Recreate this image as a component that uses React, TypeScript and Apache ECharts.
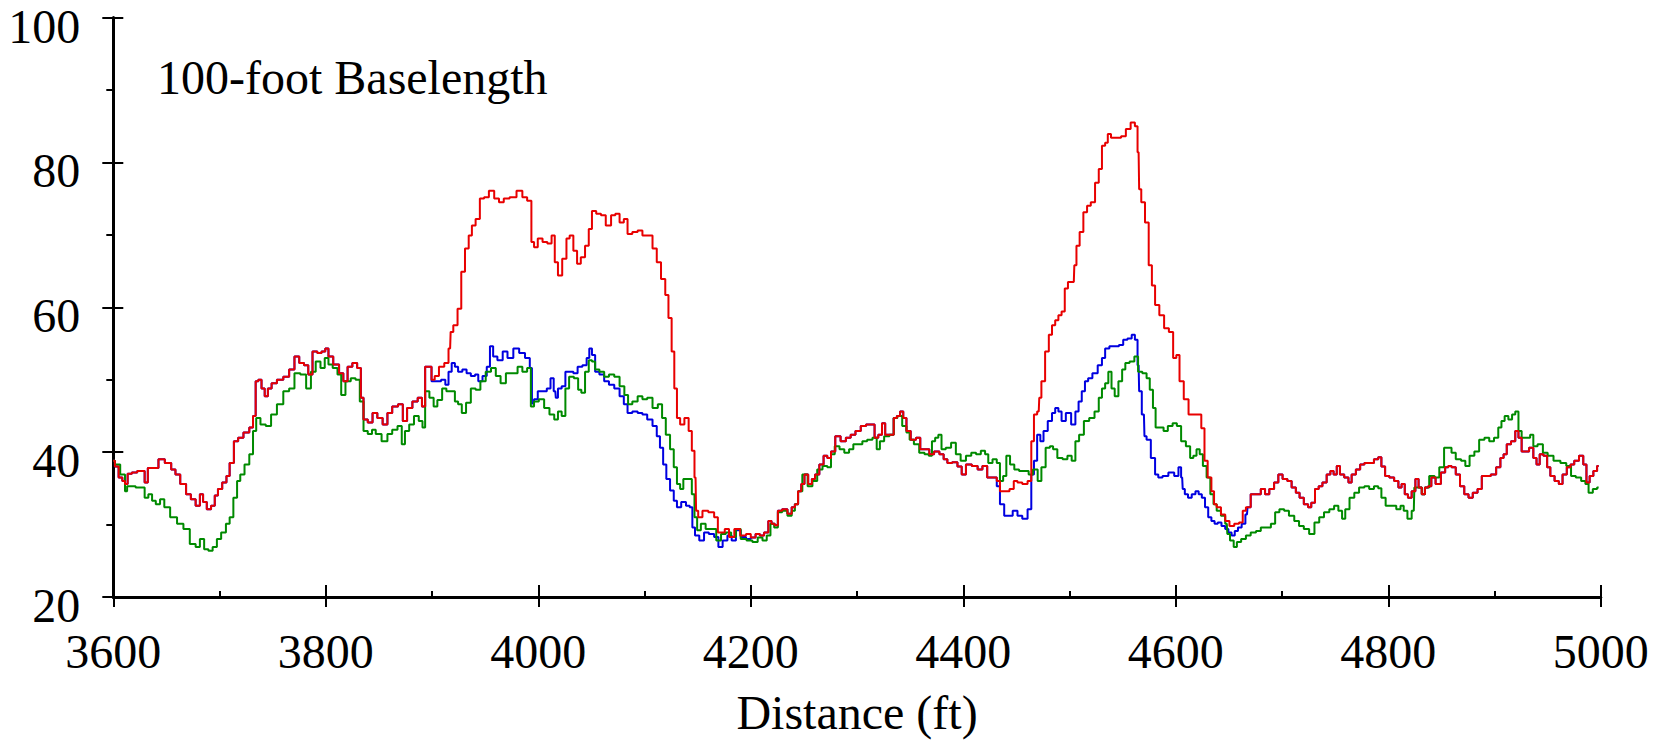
import React, { useEffect, useRef } from "react";
import * as echarts from "echarts";

const xTicks = [3600, 3800, 4000, 4200, 4400, 4600, 4800, 5000];
const yTicks = [20, 40, 60, 80, 100];
const chartTitle = "100-foot Baselength";
const xName = "Distance (ft)";

// red series [distance, value]
const red: [number, number][] = [
  [3600, 38.8], [3603, 38.0], [3607, 36.5], [3610, 36.0], [3612, 35.6], [3615, 37.0], [3620, 37.2], [3625, 37.4], [3628, 37.4], [3631, 35.8],
  [3634, 37.8], [3640, 37.8], [3645, 39.0], [3652, 38.5], [3657, 37.6], [3660, 36.9], [3666, 35.6], [3671, 34.2], [3675, 33.5], [3680, 32.6],
  [3683, 34.2], [3686, 33.1], [3690, 32.1], [3694, 32.6], [3697, 34.0], [3700, 34.9], [3705, 35.8], [3708, 36.7], [3711, 38.5], [3716, 41.5],
  [3719, 42.0], [3726, 42.7], [3730, 43.4], [3733, 45.0], [3735, 49.8], [3738, 50.0], [3741, 48.8], [3744, 47.7], [3747, 48.8], [3751, 49.5],
  [3757, 50.0], [3763, 50.4], [3768, 51.4], [3773, 53.2], [3777, 52.3], [3782, 52.0], [3785, 50.7], [3790, 53.9], [3794, 53.7], [3798, 53.9],
  [3801, 54.3], [3804, 53.2], [3810, 52.1], [3815, 50.9], [3818, 49.8], [3823, 51.8], [3827, 52.3], [3832, 51.6], [3834, 47.5], [3837, 44.5],
  [3842, 44.1], [3846, 45.4], [3851, 44.7], [3856, 43.8], [3860, 45.4], [3865, 46.3], [3871, 46.6], [3874, 44.3], [3879, 46.1], [3884, 47.0],
  [3889, 47.5], [3892, 46.3], [3895, 51.8], [3898, 51.8], [3901, 50.0], [3904, 50.5], [3909, 51.8], [3914, 52.3], [3917, 54.3], [3918, 56.6],
  [3922, 57.5], [3926, 59.8], [3929, 64.9], [3933, 68.1], [3936, 69.9], [3939, 71.3], [3943, 72.2], [3947, 75.0], [3951, 75.2], [3956, 76.1],
  [3961, 75.0], [3965, 74.5], [3970, 75.0], [3976, 75.2], [3983, 76.1], [3987, 75.2], [3992, 74.7], [3995, 69.0], [3997, 68.3], [4002, 69.5],
  [4006, 69.0], [4011, 68.8], [4014, 69.9], [4017, 66.2], [4020, 64.4], [4025, 66.7], [4028, 69.5], [4031, 69.9], [4035, 67.8], [4038, 66.0],
  [4042, 66.9], [4046, 68.5], [4049, 70.8], [4052, 73.3], [4057, 72.9], [4061, 72.7], [4066, 71.3], [4071, 72.7], [4074, 72.9], [4079, 71.7],
  [4082, 72.2], [4086, 70.1], [4091, 70.4], [4096, 70.6], [4100, 69.9], [4105, 69.9], [4110, 68.1], [4113, 66.2], [4118, 63.9], [4121, 61.7],
  [4124, 58.5], [4127, 53.9], [4129, 48.8], [4132, 44.7], [4135, 43.8], [4140, 44.7], [4143, 42.9], [4146, 40.2], [4148, 36.5], [4149, 31.9],
  [4152, 31.0], [4157, 31.9], [4163, 31.7], [4168, 31.0], [4170, 28.9], [4174, 28.9], [4177, 29.4], [4182, 28.3], [4187, 29.4], [4193, 28.5],
  [4198, 28.7], [4202, 28.2], [4207, 28.7], [4210, 28.5], [4215, 28.9], [4218, 30.5], [4221, 30.1], [4224, 29.9], [4227, 31.9], [4232, 32.1],
  [4237, 31.5], [4240, 32.4], [4243, 32.8], [4246, 34.6], [4249, 35.6], [4252, 36.9], [4256, 35.6], [4259, 36.3], [4262, 36.9], [4267, 38.3],
  [4270, 39.5], [4274, 39.2], [4277, 40.1], [4282, 42.2], [4287, 41.5], [4292, 42.0], [4296, 42.4], [4301, 42.9], [4306, 43.6], [4311, 43.8],
  [4315, 43.8], [4318, 42.0], [4322, 42.4], [4325, 44.0], [4328, 42.4], [4333, 42.4], [4336, 44.7], [4339, 45.0], [4342, 45.6], [4345, 44.7],
  [4348, 42.9], [4353, 41.7], [4358, 42.0], [4361, 40.4], [4366, 40.4], [4370, 39.7], [4375, 40.1], [4380, 39.7], [4383, 39.0], [4387, 38.5],
  [4392, 38.6], [4397, 38.0], [4400, 36.9], [4405, 38.3], [4411, 38.1], [4416, 37.6], [4420, 38.1], [4425, 36.5], [4430, 36.5], [4433, 36.0],
  [4436, 34.6], [4441, 34.6], [4446, 34.9], [4449, 36.0], [4453, 35.8], [4458, 35.6], [4463, 36.0], [4465, 41.5], [4468, 45.2], [4471, 45.6],
  [4472, 47.5], [4475, 49.8], [4479, 53.9], [4482, 56.2], [4485, 57.5], [4488, 58.2], [4491, 58.9], [4494, 59.4], [4497, 62.6], [4500, 63.5],
  [4504, 63.5], [4505, 65.8], [4508, 68.5], [4511, 70.4], [4515, 73.1], [4518, 74.0], [4522, 74.5], [4526, 77.2], [4529, 79.1], [4532, 82.3],
  [4535, 82.7], [4537, 83.9], [4541, 83.4], [4546, 83.4], [4551, 83.6], [4555, 84.6], [4560, 85.5], [4563, 85.0], [4565, 81.4], [4566, 76.3],
  [4569, 74.5], [4573, 71.7], [4576, 65.8], [4579, 63.0], [4582, 60.3], [4587, 58.9], [4591, 57.1], [4596, 56.6], [4599, 53.0], [4602, 53.4],
  [4605, 49.8], [4610, 47.3], [4614, 45.2], [4622, 45.2], [4626, 43.3], [4628, 38.8], [4632, 36.5], [4635, 34.6], [4637, 32.8], [4640, 32.4],
  [4645, 31.4], [4648, 30.5], [4653, 29.8], [4657, 30.1], [4662, 30.3], [4664, 31.9], [4668, 32.4], [4673, 34.2], [4678, 34.2], [4682, 34.9],
  [4686, 34.2], [4690, 34.9], [4695, 35.8], [4698, 36.9], [4703, 36.3], [4707, 36.0], [4711, 35.1], [4715, 34.4], [4718, 33.7], [4723, 32.8],
  [4726, 32.4], [4729, 33.0], [4733, 34.9], [4736, 35.3], [4740, 35.8], [4744, 36.9], [4747, 37.4], [4750, 36.9], [4753, 38.1], [4756, 36.9],
  [4761, 36.5], [4764, 35.8], [4767, 36.9], [4772, 37.6], [4775, 38.3], [4780, 38.5], [4784, 38.5], [4789, 39.0], [4792, 39.3], [4795, 38.0],
  [4799, 36.7], [4803, 36.5], [4808, 36.0], [4811, 35.1], [4814, 35.6], [4817, 34.2], [4820, 33.7], [4824, 34.6], [4827, 36.3], [4830, 35.1],
  [4833, 34.2], [4836, 35.1], [4839, 35.3], [4842, 36.5], [4847, 35.6], [4852, 37.2], [4855, 37.9], [4858, 38.1], [4861, 37.9], [4866, 36.9],
  [4869, 35.3], [4874, 34.2], [4877, 33.7], [4882, 34.4], [4886, 34.9], [4890, 36.7], [4894, 36.7], [4899, 36.9], [4904, 37.9], [4907, 39.2],
  [4910, 39.7], [4913, 41.1], [4918, 41.5], [4921, 42.9], [4924, 42.0], [4927, 40.1], [4930, 40.1], [4935, 40.6], [4938, 39.2], [4941, 38.3],
  [4944, 39.7], [4948, 39.5], [4951, 37.9], [4954, 36.7], [4959, 36.0], [4962, 35.6], [4966, 36.9], [4970, 37.9], [4973, 38.3], [4977, 38.8],
  [4982, 39.5], [4985, 38.3], [4988, 35.8], [4991, 36.7], [4995, 37.4], [4998, 38.1],
];

// green series [distance, value]
const green: [number, number][] = [
  [3600, 38.8], [3603, 38.3], [3610, 36.9], [3612, 34.6], [3614, 35.3], [3628, 35.1], [3631, 33.7], [3635, 34.2], [3638, 33.3], [3642, 32.8],
  [3646, 33.5], [3650, 32.4], [3657, 31.0], [3663, 30.1], [3669, 29.4], [3675, 27.3], [3680, 26.9], [3683, 28.0], [3688, 26.6], [3691, 26.4],
  [3696, 26.9], [3699, 28.0], [3704, 28.9], [3708, 30.1], [3711, 31.0], [3715, 33.7], [3718, 36.0], [3721, 36.9], [3726, 38.3], [3730, 39.7],
  [3733, 42.9], [3736, 44.7], [3741, 43.8], [3746, 43.6], [3751, 45.2], [3757, 46.6], [3763, 48.4], [3768, 48.8], [3773, 50.9], [3779, 50.7],
  [3784, 48.8], [3788, 51.1], [3793, 52.5], [3797, 51.6], [3801, 53.0], [3804, 52.1], [3809, 51.6], [3813, 50.7], [3816, 47.9], [3821, 49.8],
  [3826, 50.2], [3830, 50.0], [3834, 47.0], [3837, 42.9], [3842, 42.5], [3845, 43.1], [3849, 42.5], [3856, 41.5], [3860, 42.5], [3865, 43.1],
  [3870, 43.6], [3873, 41.1], [3876, 42.9], [3881, 43.8], [3885, 45.0], [3890, 44.3], [3892, 43.4], [3895, 48.4], [3900, 47.5], [3903, 46.3],
  [3907, 47.2], [3912, 48.8], [3915, 48.4], [3920, 48.4], [3923, 47.0], [3926, 46.6], [3930, 45.4], [3934, 46.8], [3939, 48.8], [3943, 48.6],
  [3948, 49.8], [3953, 51.1], [3958, 51.6], [3962, 50.5], [3967, 49.5], [3972, 50.9], [3978, 50.9], [3983, 51.8], [3987, 51.1], [3992, 51.6],
  [3994, 46.3], [3998, 47.0], [4003, 47.3], [4008, 46.1], [4013, 45.2], [4017, 44.5], [4020, 45.6], [4024, 45.0], [4027, 48.8], [4031, 50.4],
  [4036, 50.2], [4039, 48.6], [4042, 48.2], [4046, 51.1], [4049, 52.7], [4052, 52.5], [4055, 51.4], [4060, 51.1], [4064, 50.4], [4069, 50.7],
  [4074, 50.4], [4079, 49.1], [4083, 47.9], [4086, 46.6], [4091, 47.0], [4096, 47.7], [4100, 47.3], [4105, 47.5], [4110, 46.1], [4115, 46.6],
  [4118, 44.7], [4122, 42.4], [4126, 40.4], [4129, 37.9], [4132, 35.6], [4135, 34.9], [4138, 36.3], [4143, 36.3], [4146, 34.2], [4148, 31.0],
  [4151, 29.2], [4155, 30.1], [4160, 29.4], [4165, 29.4], [4170, 27.8], [4174, 28.7], [4179, 28.9], [4184, 28.3], [4188, 29.4], [4193, 28.0],
  [4199, 27.8], [4204, 27.6], [4209, 28.2], [4213, 27.8], [4217, 28.5], [4220, 30.1], [4224, 29.6], [4227, 31.7], [4232, 31.9], [4237, 31.2],
  [4240, 31.9], [4243, 32.8], [4246, 34.6], [4251, 36.9], [4256, 35.3], [4260, 36.0], [4265, 37.6], [4270, 38.1], [4274, 37.9], [4277, 39.7],
  [4281, 40.8], [4286, 40.4], [4290, 39.9], [4295, 40.4], [4298, 41.1], [4303, 41.1], [4307, 41.5], [4312, 41.7], [4317, 42.0], [4320, 40.4],
  [4323, 41.5], [4328, 42.2], [4333, 42.4], [4336, 44.7], [4340, 45.0], [4345, 43.6], [4348, 42.7], [4351, 41.7], [4356, 41.1], [4361, 39.9],
  [4366, 39.7], [4369, 39.5], [4372, 41.5], [4375, 42.0], [4378, 42.4], [4381, 40.4], [4386, 40.6], [4391, 41.3], [4395, 39.7], [4400, 38.8],
  [4405, 39.5], [4410, 39.9], [4414, 39.7], [4419, 40.2], [4422, 39.7], [4425, 38.5], [4430, 39.0], [4433, 38.5], [4436, 36.0], [4439, 36.7],
  [4442, 39.5], [4446, 38.3], [4450, 37.6], [4455, 37.4], [4460, 37.4], [4463, 36.9], [4468, 37.6], [4472, 36.0], [4475, 37.9], [4480, 40.6],
  [4483, 40.8], [4486, 40.4], [4491, 39.2], [4496, 39.0], [4500, 39.5], [4504, 38.8], [4507, 41.5], [4511, 42.4], [4516, 44.3], [4521, 44.7],
  [4526, 45.6], [4529, 47.5], [4532, 48.8], [4535, 49.5], [4538, 51.1], [4541, 48.8], [4544, 47.7], [4548, 49.8], [4551, 51.4], [4554, 52.3],
  [4559, 52.5], [4563, 53.2], [4566, 51.1], [4571, 50.9], [4574, 50.2], [4577, 48.6], [4580, 46.1], [4582, 43.4], [4587, 43.4], [4590, 42.9],
  [4595, 43.6], [4599, 44.0], [4603, 43.6], [4607, 41.5], [4612, 40.8], [4615, 39.2], [4618, 39.5], [4621, 40.4], [4624, 39.7], [4627, 38.1],
  [4631, 36.5], [4634, 34.2], [4637, 32.8], [4640, 31.9], [4645, 31.2], [4648, 30.1], [4649, 28.7], [4653, 27.8], [4656, 26.9], [4659, 27.6],
  [4664, 28.0], [4668, 28.5], [4673, 28.9], [4678, 29.1], [4682, 29.6], [4687, 29.6], [4692, 30.1], [4695, 31.7], [4700, 32.1], [4704, 31.9],
  [4709, 31.2], [4714, 30.5], [4718, 29.8], [4723, 29.4], [4728, 28.7], [4733, 30.3], [4737, 31.0], [4742, 31.7], [4747, 32.1], [4751, 32.6],
  [4755, 31.9], [4758, 30.8], [4761, 32.1], [4766, 33.7], [4770, 34.4], [4775, 35.1], [4780, 35.3], [4784, 34.9], [4789, 35.3], [4792, 35.0],
  [4795, 33.7], [4800, 32.6], [4805, 32.6], [4810, 32.1], [4813, 32.6], [4816, 31.9], [4820, 30.8], [4824, 31.9], [4825, 35.1], [4830, 35.1],
  [4833, 34.2], [4836, 35.1], [4841, 36.7], [4846, 36.5], [4850, 37.9], [4855, 40.6], [4858, 40.6], [4861, 39.9], [4866, 39.0], [4871, 38.8],
  [4874, 38.1], [4879, 39.5], [4883, 40.1], [4888, 41.7], [4893, 42.0], [4897, 41.5], [4902, 42.0], [4905, 43.4], [4908, 44.3], [4911, 45.0],
  [4915, 44.5], [4918, 45.2], [4921, 45.6], [4924, 42.9], [4927, 42.0], [4932, 42.0], [4935, 42.4], [4938, 40.8], [4943, 41.1], [4948, 39.9],
  [4952, 39.5], [4959, 38.8], [4965, 38.5], [4970, 38.1], [4974, 36.7], [4979, 36.5], [4984, 36.0], [4987, 35.6], [4990, 34.4], [4995, 34.9],
  [4998, 35.1],
];

// blue follows red except in these two stretches
const blueSegA: [number, number][] = [
  [3901, 49.8], [3906, 49.8], [3911, 50.0], [3914, 49.3], [3917, 51.1], [3920, 52.3], [3923, 51.8], [3926, 51.1], [3931, 51.4], [3934, 50.9],
  [3939, 50.5], [3942, 50.7], [3945, 49.8], [3950, 50.5], [3953, 51.8], [3956, 54.6], [3959, 53.2], [3964, 52.7], [3969, 53.9], [3973, 53.0],
  [3980, 54.3], [3984, 53.7], [3991, 53.0], [3993, 51.6], [3995, 46.7], [3997, 47.3], [4002, 48.4], [4006, 48.4], [4010, 48.8], [4013, 50.2],
  [4016, 48.4], [4017, 47.5], [4020, 48.8], [4024, 49.1], [4027, 51.1], [4031, 51.1], [4035, 50.9], [4039, 51.8], [4044, 52.0], [4047, 53.0],
  [4049, 54.3], [4052, 53.4], [4055, 51.1], [4060, 50.7], [4064, 49.8], [4069, 49.3], [4074, 48.8], [4079, 47.7], [4082, 46.6], [4086, 45.4],
  [4091, 45.6], [4096, 45.4], [4100, 45.2], [4105, 44.5], [4110, 43.6], [4113, 42.2], [4116, 40.6], [4119, 38.3], [4122, 36.3], [4126, 34.7],
  [4129, 33.3], [4132, 32.4], [4137, 33.1], [4141, 32.6], [4144, 32.4], [4146, 29.6], [4149, 28.5], [4154, 27.8], [4158, 28.9], [4163, 28.7],
  [4168, 28.3], [4171, 26.9], [4176, 27.8], [4180, 28.5], [4184, 27.8], [4188, 29.2], [4193, 28.3], [4198, 28.0],
];
const blueSegB: [number, number][] = [
  [4433, 35.3], [4436, 32.8], [4441, 31.2], [4444, 31.2], [4449, 31.9], [4453, 31.2], [4458, 30.8], [4463, 32.1], [4465, 36.9], [4468, 38.8],
  [4471, 42.4], [4474, 41.5], [4477, 42.9], [4482, 44.3], [4485, 45.4], [4488, 46.1], [4491, 45.6], [4494, 44.3], [4499, 45.4], [4504, 43.8],
  [4507, 45.6], [4510, 47.0], [4513, 48.4], [4516, 49.8], [4519, 50.2], [4524, 50.9], [4529, 52.0], [4532, 53.0], [4535, 54.3], [4540, 54.6],
  [4544, 54.6], [4549, 54.8], [4552, 55.5], [4557, 55.7], [4560, 56.2], [4563, 55.5], [4565, 52.0], [4566, 48.4], [4570, 45.2], [4571, 42.2],
  [4574, 41.7], [4579, 39.2], [4582, 36.9], [4585, 36.5], [4590, 36.7], [4596, 37.2], [4601, 36.7], [4604, 37.9], [4606, 36.5], [4607, 34.9],
  [4610, 34.2], [4613, 33.7], [4617, 34.2], [4620, 34.6], [4623, 34.2], [4626, 33.7], [4629, 32.4], [4632, 31.0], [4635, 30.5], [4638, 30.1],
  [4641, 30.3], [4645, 29.8], [4648, 29.4], [4651, 28.9], [4654, 28.5], [4657, 29.1], [4660, 29.6], [4664, 30.1], [4667, 31.4],
];

const blue: [number, number][] = [
  ...red.filter((p) => p[0] < 3901),
  ...blueSegA,
  ...red.filter((p) => p[0] > 4198 && p[0] < 4433),
  ...blueSegB,
  ...red.filter((p) => p[0] > 4667),
];

const FONT = "'Liberation Serif', 'Times New Roman', serif";

export default function App() {
  const ref = useRef<HTMLDivElement>(null);
  useEffect(() => {
    if (!ref.current) return;
    const chart = echarts.init(ref.current, undefined, { renderer: "svg" });
    const axisCommon = {
      type: "value" as const,
      splitLine: { show: false },
    };
    const tickStyle = { color: "#000", width: 2 };
    const plain = (v: number) => String(v);
    chart.setOption({
      animation: false,
      backgroundColor: "#fff",
      grid: { left: 113.3, right: 68.2, top: 17.5, bottom: 141, containLabel: false },
      graphic: [
        {
          type: "text",
          x: 157,
          y: 77,
          style: {
            text: chartTitle,
            font: `48px ${FONT}`,
            fill: "#000",
            textVerticalAlign: "middle",
            textAlign: "left",
          },
        },
      ],
      xAxis: [
        {
          ...axisCommon,
          min: xTicks[0],
          max: xTicks[xTicks.length - 1],
          interval: 200,
          position: "bottom",
          name: xName,
          nameLocation: "middle",
          nameGap: 91,
          nameTextStyle: { fontFamily: FONT, fontSize: 48, color: "#000" },
          axisLine: { show: true, onZero: false, lineStyle: { color: "#000", width: 3 } },
          axisTick: { show: true, inside: true, length: 12, lineStyle: tickStyle },
          minorTick: { show: true, splitNumber: 2, length: 6, lineStyle: tickStyle },
          axisLabel: { fontFamily: FONT, fontSize: 48, color: "#000", margin: 30, formatter: plain },
        },
        {
          ...axisCommon,
          min: xTicks[0],
          max: xTicks[xTicks.length - 1],
          interval: 200,
          position: "bottom",
          axisLine: { show: false, onZero: false },
          axisTick: { show: true, inside: false, length: 10, lineStyle: tickStyle },
          axisLabel: { show: false },
        },
      ],
      yAxis: [
        {
          ...axisCommon,
          min: yTicks[0],
          max: yTicks[yTicks.length - 1],
          interval: 20,
          position: "left",
          axisLine: { show: true, onZero: false, lineStyle: { color: "#000", width: 3 } },
          axisTick: { show: true, inside: false, length: 11, lineStyle: tickStyle },
          minorTick: { show: true, splitNumber: 2, length: 7, lineStyle: tickStyle },
          axisLabel: {
            fontFamily: FONT,
            fontSize: 48,
            color: "#000",
            margin: 33,
            verticalAlign: "top",
            lineHeight: 17,
            formatter: plain,
          },
        },
        {
          ...axisCommon,
          min: yTicks[0],
          max: yTicks[yTicks.length - 1],
          interval: 20,
          position: "left",
          axisLine: { show: false, onZero: false },
          axisTick: { show: true, inside: true, length: 10, lineStyle: tickStyle },
          axisLabel: { show: false },
        },
      ],
      series: [
        {
          type: "line",
          name: "blue",
          data: blue,
          step: "middle",
          symbol: "none",
          lineStyle: { color: "#0000e0", width: 2 },
          z: 2,
        },
        {
          type: "line",
          name: "green",
          data: green,
          step: "middle",
          symbol: "none",
          lineStyle: { color: "#008a00", width: 2 },
          z: 3,
        },
        {
          type: "line",
          name: "red",
          data: red,
          step: "middle",
          symbol: "none",
          lineStyle: { color: "#e80000", width: 2 },
          z: 4,
        },
      ],
    });
    return () => chart.dispose();
  }, []);
  return (
    <div
      ref={ref}
      style={{ position: "absolute", left: 0, top: 0, width: 1669, height: 741, background: "#fff" }}
    />
  );
}
